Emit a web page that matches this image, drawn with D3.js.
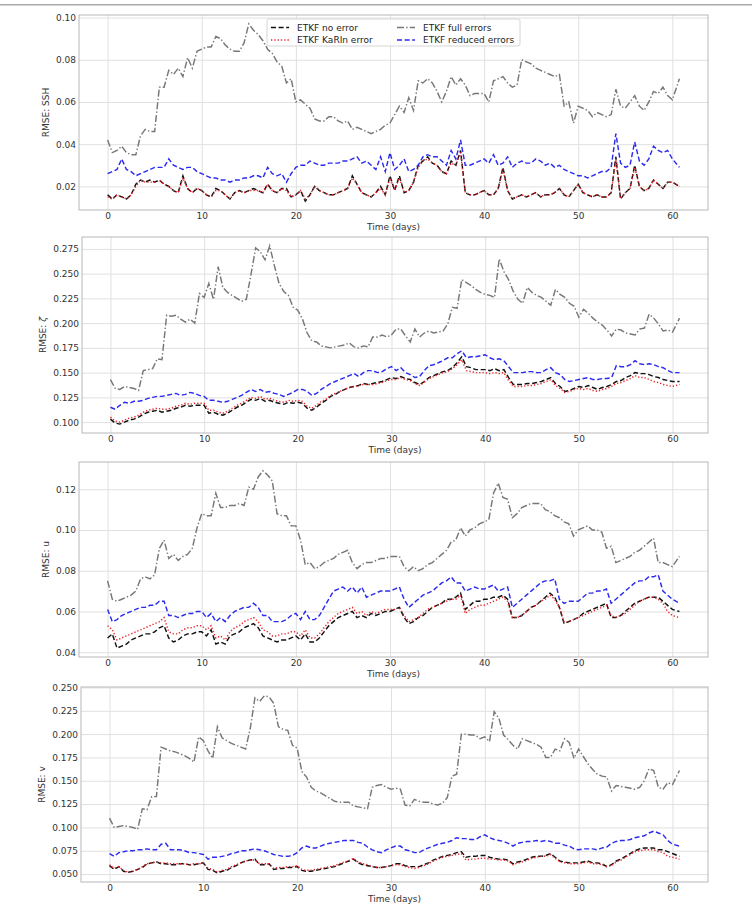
<!DOCTYPE html>
<html>
<head>
<meta charset="utf-8">
<script src="https://cdn.jsdelivr.net/npm/d3@7"></script>
<style>
body { margin: 0; background: #fff; }
svg text { font-family: "DejaVu Sans", sans-serif; }
</style>
</head>
<body>
<div id="main"></div>
<script>
// time axis (days), one sample every half day
const days = [
  0,0.5,1,1.5,2,2.5,3,3.5,4,4.5,
  5,5.5,6,6.5,7,7.5,8,8.5,9,9.5,
  10,10.5,11,11.5,12,12.5,13,13.5,14,14.5,
  15,15.5,16,16.5,17,17.5,18,18.5,19,19.5,
  20,20.5,21,21.5,22,22.5,23,23.5,24,24.5,
  25,25.5,26,26.5,27,27.5,28,28.5,29,29.5,
  30,30.5,31,31.5,32,32.5,33,33.5,34,34.5,
  35,35.5,36,36.5,37,37.5,38,38.5,39,39.5,
  40,40.5,41,41.5,42,42.5,43,43.5,44,44.5,
  45,45.5,46,46.5,47,47.5,48,48.5,49,49.5,
  50,50.5,51,51.5,52,52.5,53,53.5,54,54.5,
  55,55.5,56,56.5,57,57.5,58,58.5,59,59.5,
  60,60.75
];

// ---- RMSE: SSH ----
const sshNoError = [
  0.016,0.014,0.016,0.015,0.014,0.016,0.021,0.023,0.022,0.023,
  0.022,0.023,0.021,0.020,0.018,0.017,0.025,0.019,0.017,0.019,
  0.018,0.016,0.015,0.019,0.018,0.016,0.014,0.017,0.018,0.017,
  0.018,0.019,0.018,0.017,0.021,0.018,0.017,0.019,0.019,0.015,
  0.016,0.018,0.013,0.016,0.020,0.018,0.017,0.016,0.016,0.017,
  0.018,0.019,0.025,0.021,0.017,0.016,0.015,0.017,0.020,0.016,
  0.025,0.018,0.025,0.017,0.018,0.022,0.030,0.032,0.034,0.031,
  0.030,0.027,0.026,0.032,0.030,0.037,0.017,0.016,0.016,0.017,
  0.018,0.016,0.016,0.019,0.029,0.018,0.014,0.015,0.016,0.015,
  0.016,0.017,0.015,0.016,0.016,0.017,0.019,0.016,0.015,0.018,
  0.021,0.017,0.016,0.015,0.016,0.015,0.015,0.017,0.034,0.014,
  0.017,0.019,0.030,0.020,0.018,0.019,0.023,0.021,0.019,0.022,
  0.022,0.020
];
const sshKarin = [
  0.015,0.014,0.016,0.015,0.014,0.016,0.020,0.023,0.022,0.022,
  0.022,0.023,0.021,0.020,0.018,0.017,0.024,0.019,0.017,0.019,
  0.018,0.016,0.015,0.018,0.018,0.016,0.014,0.017,0.018,0.017,
  0.018,0.018,0.018,0.017,0.021,0.018,0.017,0.019,0.018,0.015,
  0.016,0.018,0.014,0.016,0.020,0.018,0.017,0.016,0.016,0.017,
  0.018,0.019,0.024,0.021,0.017,0.016,0.015,0.017,0.019,0.016,
  0.024,0.018,0.024,0.017,0.018,0.022,0.029,0.032,0.033,0.031,
  0.030,0.027,0.026,0.031,0.030,0.036,0.017,0.016,0.016,0.017,
  0.018,0.016,0.016,0.019,0.028,0.018,0.014,0.015,0.016,0.015,
  0.016,0.017,0.015,0.016,0.016,0.017,0.019,0.016,0.015,0.018,
  0.021,0.017,0.016,0.015,0.016,0.015,0.015,0.017,0.033,0.014,
  0.017,0.019,0.029,0.020,0.018,0.019,0.023,0.021,0.019,0.022,
  0.022,0.020
];
const sshFull = [
  0.042,0.036,0.037,0.039,0.036,0.035,0.035,0.044,0.047,0.046,
  0.046,0.067,0.067,0.075,0.073,0.076,0.072,0.081,0.076,0.084,
  0.085,0.086,0.086,0.091,0.090,0.087,0.085,0.084,0.084,0.088,
  0.097,0.094,0.092,0.089,0.085,0.083,0.079,0.077,0.069,0.071,
  0.060,0.061,0.059,0.057,0.052,0.051,0.051,0.053,0.053,0.051,
  0.050,0.051,0.047,0.048,0.047,0.046,0.045,0.046,0.047,0.049,
  0.050,0.054,0.058,0.055,0.062,0.056,0.070,0.069,0.071,0.069,
  0.065,0.060,0.065,0.072,0.068,0.071,0.068,0.063,0.064,0.064,
  0.064,0.060,0.070,0.071,0.072,0.069,0.067,0.068,0.080,0.079,
  0.078,0.076,0.075,0.074,0.073,0.072,0.073,0.058,0.060,0.050,
  0.058,0.057,0.056,0.053,0.055,0.054,0.053,0.054,0.066,0.058,
  0.057,0.060,0.063,0.058,0.056,0.060,0.065,0.064,0.067,0.063,
  0.061,0.071
];
const sshReduced = [
  0.026,0.027,0.028,0.033,0.028,0.027,0.025,0.026,0.027,0.028,
  0.029,0.029,0.029,0.033,0.030,0.029,0.028,0.029,0.029,0.027,
  0.026,0.025,0.024,0.024,0.023,0.023,0.022,0.023,0.023,0.024,
  0.024,0.025,0.025,0.024,0.029,0.026,0.025,0.026,0.022,0.026,
  0.029,0.030,0.030,0.032,0.031,0.030,0.030,0.031,0.031,0.031,
  0.032,0.032,0.033,0.034,0.031,0.032,0.030,0.028,0.034,0.027,
  0.036,0.028,0.030,0.033,0.027,0.028,0.030,0.034,0.035,0.034,
  0.034,0.032,0.030,0.037,0.033,0.042,0.030,0.030,0.031,0.032,
  0.033,0.031,0.035,0.030,0.031,0.034,0.029,0.031,0.032,0.031,
  0.031,0.033,0.032,0.030,0.031,0.029,0.030,0.028,0.027,0.026,
  0.025,0.025,0.024,0.025,0.026,0.027,0.027,0.029,0.045,0.031,
  0.029,0.030,0.041,0.032,0.030,0.033,0.039,0.037,0.036,0.037,
  0.033,0.029
];

// ---- RMSE: zeta ----
const zetaNoError = [
  0.103,0.099,0.098,0.100,0.102,0.103,0.105,0.108,0.110,0.111,
  0.112,0.110,0.111,0.112,0.114,0.115,0.117,0.116,0.117,0.117,
  0.117,0.109,0.110,0.108,0.107,0.109,0.112,0.115,0.117,0.120,
  0.123,0.122,0.124,0.121,0.122,0.120,0.119,0.118,0.120,0.119,
  0.120,0.119,0.114,0.112,0.115,0.119,0.122,0.126,0.128,0.131,
  0.133,0.135,0.136,0.137,0.139,0.138,0.139,0.140,0.141,0.143,
  0.145,0.144,0.146,0.144,0.143,0.140,0.138,0.141,0.145,0.147,
  0.149,0.151,0.152,0.155,0.160,0.166,0.156,0.155,0.153,0.153,
  0.153,0.152,0.154,0.152,0.153,0.145,0.138,0.138,0.138,0.139,
  0.139,0.140,0.141,0.143,0.145,0.139,0.136,0.131,0.132,0.134,
  0.136,0.135,0.137,0.135,0.133,0.135,0.136,0.138,0.141,0.142,
  0.145,0.147,0.150,0.149,0.149,0.148,0.146,0.145,0.143,0.142,
  0.141,0.141
];
const zetaKarin = [
  0.105,0.101,0.100,0.102,0.104,0.105,0.107,0.110,0.112,0.113,
  0.114,0.113,0.113,0.114,0.116,0.117,0.119,0.118,0.119,0.119,
  0.119,0.112,0.112,0.110,0.109,0.111,0.114,0.117,0.119,0.122,
  0.125,0.124,0.126,0.123,0.124,0.122,0.121,0.120,0.122,0.121,
  0.122,0.121,0.116,0.114,0.117,0.121,0.123,0.127,0.129,0.131,
  0.133,0.135,0.136,0.137,0.138,0.138,0.138,0.139,0.140,0.142,
  0.143,0.143,0.145,0.143,0.142,0.139,0.137,0.140,0.144,0.146,
  0.148,0.150,0.151,0.154,0.158,0.163,0.152,0.151,0.150,0.150,
  0.150,0.149,0.150,0.149,0.150,0.142,0.136,0.136,0.136,0.137,
  0.137,0.138,0.139,0.141,0.143,0.137,0.134,0.130,0.131,0.133,
  0.134,0.133,0.134,0.132,0.131,0.133,0.134,0.136,0.139,0.140,
  0.142,0.144,0.147,0.145,0.145,0.143,0.141,0.140,0.138,0.137,
  0.136,0.138
];
const zetaFull = [
  0.143,0.134,0.133,0.136,0.135,0.134,0.132,0.152,0.153,0.154,
  0.164,0.163,0.208,0.207,0.208,0.204,0.201,0.204,0.200,0.230,
  0.226,0.240,0.224,0.257,0.236,0.231,0.228,0.225,0.222,0.224,
  0.249,0.276,0.272,0.264,0.278,0.258,0.240,0.232,0.228,0.216,
  0.213,0.204,0.190,0.182,0.181,0.177,0.176,0.175,0.176,0.177,
  0.178,0.180,0.176,0.175,0.177,0.176,0.186,0.186,0.188,0.186,
  0.188,0.194,0.194,0.187,0.181,0.194,0.186,0.190,0.192,0.190,
  0.191,0.192,0.199,0.216,0.215,0.244,0.241,0.238,0.234,0.231,
  0.229,0.228,0.226,0.265,0.252,0.244,0.232,0.224,0.220,0.236,
  0.231,0.228,0.226,0.222,0.218,0.234,0.229,0.226,0.220,0.217,
  0.206,0.214,0.210,0.205,0.201,0.198,0.193,0.187,0.194,0.193,
  0.190,0.189,0.188,0.194,0.195,0.209,0.205,0.199,0.192,0.193,
  0.191,0.205
];
const zetaReduced = [
  0.115,0.113,0.117,0.120,0.119,0.121,0.121,0.122,0.124,0.125,
  0.126,0.126,0.127,0.128,0.129,0.127,0.128,0.130,0.129,0.127,
  0.126,0.122,0.122,0.121,0.120,0.121,0.123,0.125,0.127,0.130,
  0.133,0.131,0.133,0.130,0.131,0.129,0.128,0.126,0.128,0.130,
  0.133,0.133,0.131,0.127,0.129,0.133,0.136,0.139,0.141,0.143,
  0.145,0.147,0.149,0.146,0.150,0.152,0.152,0.150,0.151,0.154,
  0.156,0.152,0.155,0.150,0.148,0.145,0.146,0.152,0.157,0.158,
  0.160,0.162,0.165,0.165,0.169,0.172,0.165,0.166,0.166,0.167,
  0.168,0.165,0.163,0.164,0.162,0.156,0.150,0.150,0.150,0.151,
  0.151,0.150,0.150,0.153,0.155,0.150,0.148,0.143,0.141,0.142,
  0.143,0.144,0.145,0.143,0.143,0.144,0.144,0.145,0.157,0.156,
  0.156,0.158,0.162,0.159,0.158,0.159,0.158,0.156,0.155,0.152,
  0.150,0.150
];

// ---- RMSE: u ----
const uNoError = [
  0.047,0.049,0.042,0.043,0.044,0.046,0.047,0.048,0.049,0.049,
  0.050,0.052,0.053,0.047,0.045,0.046,0.048,0.049,0.049,0.050,
  0.050,0.048,0.051,0.044,0.045,0.044,0.048,0.049,0.050,0.052,
  0.053,0.054,0.052,0.048,0.047,0.046,0.045,0.046,0.046,0.047,
  0.048,0.046,0.049,0.045,0.045,0.047,0.050,0.053,0.055,0.057,
  0.058,0.059,0.060,0.057,0.058,0.057,0.059,0.058,0.059,0.060,
  0.060,0.061,0.062,0.057,0.054,0.055,0.057,0.058,0.060,0.062,
  0.063,0.064,0.066,0.066,0.067,0.069,0.061,0.063,0.065,0.065,
  0.066,0.066,0.067,0.067,0.068,0.066,0.057,0.057,0.058,0.060,
  0.062,0.063,0.065,0.067,0.069,0.067,0.062,0.054,0.055,0.056,
  0.057,0.059,0.060,0.061,0.062,0.063,0.064,0.057,0.057,0.058,
  0.060,0.062,0.064,0.065,0.066,0.067,0.067,0.067,0.065,0.063,
  0.061,0.060
];
const uKarin = [
  0.053,0.051,0.046,0.047,0.048,0.049,0.050,0.051,0.052,0.053,
  0.054,0.055,0.057,0.050,0.049,0.049,0.051,0.052,0.052,0.053,
  0.053,0.051,0.053,0.047,0.048,0.046,0.050,0.052,0.053,0.055,
  0.056,0.057,0.055,0.051,0.050,0.048,0.048,0.049,0.049,0.050,
  0.050,0.048,0.051,0.047,0.047,0.049,0.052,0.055,0.057,0.059,
  0.060,0.061,0.062,0.059,0.060,0.058,0.060,0.059,0.060,0.061,
  0.061,0.061,0.062,0.058,0.055,0.056,0.057,0.059,0.061,0.062,
  0.063,0.064,0.065,0.066,0.066,0.068,0.059,0.061,0.062,0.063,
  0.063,0.064,0.065,0.066,0.067,0.065,0.057,0.057,0.058,0.060,
  0.062,0.063,0.065,0.066,0.068,0.066,0.062,0.055,0.055,0.056,
  0.057,0.058,0.059,0.060,0.061,0.062,0.063,0.058,0.057,0.058,
  0.059,0.061,0.063,0.065,0.066,0.067,0.067,0.066,0.064,0.060,
  0.058,0.057
];
const uFull = [
  0.075,0.066,0.065,0.066,0.067,0.068,0.070,0.076,0.077,0.076,
  0.078,0.091,0.095,0.086,0.088,0.085,0.087,0.088,0.091,0.101,
  0.108,0.107,0.107,0.118,0.111,0.111,0.112,0.112,0.113,0.112,
  0.121,0.120,0.126,0.129,0.127,0.124,0.108,0.107,0.107,0.102,
  0.102,0.095,0.083,0.084,0.081,0.082,0.084,0.085,0.086,0.088,
  0.089,0.090,0.084,0.081,0.083,0.084,0.084,0.085,0.086,0.086,
  0.087,0.087,0.087,0.082,0.080,0.082,0.080,0.081,0.083,0.084,
  0.086,0.088,0.090,0.094,0.095,0.101,0.097,0.100,0.101,0.103,
  0.104,0.105,0.118,0.123,0.116,0.115,0.106,0.108,0.111,0.112,
  0.113,0.113,0.113,0.110,0.109,0.107,0.106,0.104,0.103,0.097,
  0.100,0.101,0.102,0.100,0.100,0.099,0.091,0.092,0.084,0.085,
  0.086,0.087,0.089,0.090,0.092,0.094,0.096,0.084,0.084,0.083,
  0.082,0.087
];
const uReduced = [
  0.061,0.055,0.056,0.058,0.059,0.060,0.061,0.062,0.062,0.063,
  0.063,0.065,0.065,0.058,0.058,0.057,0.058,0.059,0.059,0.060,
  0.060,0.057,0.059,0.055,0.057,0.055,0.058,0.060,0.061,0.062,
  0.062,0.064,0.062,0.058,0.058,0.055,0.055,0.055,0.056,0.058,
  0.059,0.056,0.060,0.056,0.056,0.058,0.062,0.066,0.070,0.071,
  0.072,0.070,0.072,0.069,0.072,0.067,0.068,0.069,0.070,0.070,
  0.070,0.071,0.072,0.066,0.062,0.064,0.066,0.068,0.069,0.070,
  0.072,0.074,0.075,0.077,0.074,0.074,0.070,0.071,0.072,0.071,
  0.071,0.072,0.073,0.070,0.071,0.072,0.062,0.064,0.066,0.068,
  0.070,0.072,0.074,0.075,0.075,0.076,0.066,0.064,0.065,0.065,
  0.065,0.067,0.069,0.069,0.070,0.070,0.071,0.064,0.066,0.068,
  0.070,0.072,0.074,0.075,0.075,0.077,0.077,0.078,0.070,0.068,
  0.066,0.064
];

// ---- RMSE: v ----
const vNoError = [
  0.059,0.055,0.058,0.053,0.052,0.053,0.055,0.057,0.061,0.062,
  0.063,0.061,0.061,0.060,0.060,0.061,0.061,0.060,0.060,0.061,
  0.062,0.055,0.054,0.051,0.053,0.054,0.057,0.059,0.062,0.064,
  0.065,0.066,0.060,0.060,0.061,0.055,0.056,0.056,0.057,0.057,
  0.058,0.054,0.053,0.053,0.054,0.055,0.056,0.057,0.058,0.060,
  0.062,0.064,0.066,0.062,0.060,0.059,0.058,0.057,0.057,0.058,
  0.059,0.061,0.061,0.059,0.058,0.058,0.058,0.060,0.062,0.065,
  0.067,0.069,0.070,0.071,0.073,0.074,0.068,0.069,0.069,0.070,
  0.070,0.068,0.067,0.066,0.066,0.065,0.061,0.063,0.064,0.066,
  0.068,0.069,0.069,0.070,0.072,0.068,0.064,0.063,0.062,0.062,
  0.062,0.063,0.064,0.062,0.062,0.061,0.058,0.060,0.064,0.066,
  0.069,0.072,0.075,0.077,0.078,0.078,0.078,0.076,0.076,0.074,
  0.072,0.069
];
const vKarin = [
  0.060,0.056,0.058,0.054,0.052,0.053,0.055,0.058,0.061,0.062,
  0.063,0.062,0.062,0.061,0.061,0.061,0.061,0.060,0.061,0.061,
  0.062,0.056,0.055,0.052,0.054,0.055,0.058,0.060,0.062,0.064,
  0.065,0.065,0.061,0.061,0.061,0.056,0.057,0.057,0.058,0.058,
  0.059,0.055,0.054,0.054,0.055,0.056,0.057,0.058,0.059,0.061,
  0.063,0.064,0.067,0.063,0.061,0.060,0.058,0.057,0.057,0.058,
  0.059,0.060,0.060,0.058,0.057,0.056,0.057,0.059,0.061,0.064,
  0.066,0.068,0.069,0.070,0.071,0.072,0.065,0.066,0.066,0.067,
  0.067,0.066,0.066,0.065,0.065,0.064,0.060,0.062,0.063,0.065,
  0.067,0.068,0.069,0.069,0.071,0.067,0.063,0.062,0.061,0.061,
  0.061,0.062,0.063,0.061,0.061,0.060,0.058,0.059,0.063,0.065,
  0.068,0.071,0.074,0.075,0.076,0.076,0.076,0.074,0.073,0.069,
  0.068,0.066
];
const vFull = [
  0.110,0.100,0.101,0.102,0.101,0.100,0.098,0.120,0.119,0.133,
  0.133,0.186,0.184,0.182,0.181,0.179,0.177,0.174,0.170,0.197,
  0.193,0.182,0.174,0.208,0.196,0.193,0.190,0.188,0.186,0.184,
  0.206,0.239,0.235,0.241,0.240,0.233,0.208,0.205,0.204,0.188,
  0.185,0.160,0.154,0.143,0.139,0.137,0.134,0.131,0.128,0.127,
  0.127,0.127,0.123,0.122,0.121,0.120,0.143,0.145,0.146,0.143,
  0.141,0.142,0.141,0.124,0.123,0.130,0.128,0.127,0.127,0.125,
  0.124,0.126,0.132,0.155,0.157,0.200,0.200,0.199,0.199,0.195,
  0.197,0.192,0.224,0.217,0.199,0.194,0.188,0.184,0.195,0.193,
  0.191,0.189,0.186,0.175,0.175,0.184,0.182,0.195,0.191,0.174,
  0.184,0.176,0.168,0.162,0.157,0.155,0.154,0.139,0.145,0.144,
  0.143,0.142,0.141,0.143,0.150,0.163,0.161,0.143,0.141,0.148,
  0.146,0.161
];
const vReduced = [
  0.072,0.069,0.073,0.074,0.075,0.075,0.076,0.076,0.077,0.076,
  0.076,0.082,0.083,0.076,0.076,0.076,0.075,0.073,0.073,0.072,
  0.071,0.066,0.068,0.068,0.069,0.070,0.072,0.073,0.075,0.075,
  0.076,0.077,0.076,0.075,0.073,0.071,0.070,0.069,0.069,0.070,
  0.073,0.078,0.080,0.078,0.078,0.080,0.082,0.083,0.084,0.085,
  0.086,0.086,0.086,0.084,0.083,0.079,0.076,0.074,0.073,0.076,
  0.078,0.080,0.080,0.076,0.075,0.073,0.073,0.076,0.078,0.080,
  0.082,0.083,0.084,0.086,0.089,0.088,0.088,0.087,0.087,0.090,
  0.092,0.089,0.087,0.086,0.085,0.083,0.080,0.083,0.084,0.085,
  0.085,0.086,0.085,0.086,0.085,0.083,0.083,0.081,0.080,0.077,
  0.076,0.077,0.077,0.077,0.076,0.078,0.079,0.083,0.085,0.086,
  0.086,0.087,0.089,0.090,0.091,0.094,0.096,0.094,0.092,0.086,
  0.082,0.080
];

// tick labels
const xTicks = [0, 10, 20, 30, 40, 50, 60];
const sshTicks = [0.02, 0.04, 0.06, 0.08, 0.10];
const zetaTicks = [0.100, 0.125, 0.150, 0.175, 0.200, 0.225, 0.250, 0.275];
const uTicks = [0.04, 0.06, 0.08, 0.10, 0.12];
const vTicks = [0.050, 0.075, 0.100, 0.125, 0.150, 0.175, 0.200, 0.225, 0.250];

const seriesNames = ["ETKF no error", "ETKF KaRIn error", "ETKF full errors", "ETKF reduced errors"];

// line look for each series, same order as seriesNames
const lineStyles = [
    { color: "#111111", dash: "5,2.6" },
    { color: "#e8262a", dash: "1.3,2" },
    { color: "#777777", dash: "7,2.2,1.4,2.2" },
    { color: "#2b2bf0", dash: "5,2.6" }
];

const width = 752, height = 917;

const svg = d3.select("#main")
    .append("svg")
    .attr("width", width)
    .attr("height", height);

// thin rule along the top of the page
svg.append("rect")
    .attr("x", 0).attr("y", 4)
    .attr("width", width).attr("height", 1.5)
    .attr("fill", "#a9a9a9");

const panels = [
    { box: { left: 79, right: 708, top: 15, bottom: 210 }, ticks: sshTicks, fmt: ".2f",
      label: "SSH", series: [sshNoError, sshKarin, sshFull, sshReduced], legend: true },
    { box: { left: 82, right: 708, top: 237, bottom: 433 }, ticks: zetaTicks, fmt: ".3f",
      label: "ζ", italic: true, series: [zetaNoError, zetaKarin, zetaFull, zetaReduced] },
    { box: { left: 79, right: 708, top: 462, bottom: 657 }, ticks: uTicks, fmt: ".2f",
      label: "u", series: [uNoError, uKarin, uFull, uReduced] },
    { box: { left: 81, right: 708, top: 687, bottom: 882 }, ticks: vTicks, fmt: ".3f",
      label: "v", series: [vNoError, vKarin, vFull, vReduced] }
];

panels.forEach(makePanel);

function makePanel(p) {
    const b = p.box;
    const w = b.right - b.left,
        h = b.bottom - b.top;

    const g = svg.append("g")
        .attr("transform", `translate(${b.left}, ${b.top})`);

    // matplotlib-like 5% margins around the data
    const xlo = d3.min(days), xhi = d3.max(days), xpad = (xhi - xlo) * 0.05;
    const x = d3.scaleLinear()
        .domain([xlo - xpad, xhi + xpad])
        .range([0, w]);

    const allVals = [].concat(...p.series);
    const ylo = d3.min(allVals), yhi = d3.max(allVals), ypad = (yhi - ylo) * 0.05;
    const y = d3.scaleLinear()
        .domain([ylo - ypad, yhi + ypad])
        .range([h, 0]);

    // grid
    const gx = g.append("g")
        .attr("transform", `translate(0, ${h})`)
        .call(d3.axisBottom(x).tickValues(xTicks).tickSize(-h).tickFormat(""));
    const gy = g.append("g")
        .call(d3.axisLeft(y).tickValues(p.ticks).tickSize(-w).tickFormat(""));
    [gx, gy].forEach(function (a) {
        a.select(".domain").remove();
        a.selectAll("line").attr("stroke", "#e0e0e0").attr("stroke-width", 1);
    });

    // series
    const line = d3.line()
        .x(function (d, i) { return x(days[i]); })
        .y(function (d) { return y(d); });

    p.series.forEach(function (s, k) {
        g.append("path")
            .datum(s)
            .attr("fill", "none")
            .attr("stroke", lineStyles[k].color)
            .attr("stroke-width", 1.45)
            .attr("stroke-dasharray", lineStyles[k].dash)
            .attr("d", line);
    });

    // frame
    g.append("rect")
        .attr("width", w)
        .attr("height", h)
        .attr("fill", "none")
        .attr("stroke", "#b8b8b8")
        .attr("stroke-width", 1);

    // tick labels
    const ax = g.append("g")
        .attr("transform", `translate(0, ${h})`)
        .call(d3.axisBottom(x).tickValues(xTicks).tickSize(0).tickPadding(3));
    const ay = g.append("g")
        .call(d3.axisLeft(y).tickValues(p.ticks).tickSize(0).tickPadding(3).tickFormat(d3.format(p.fmt)));
    [ax, ay].forEach(function (a) {
        a.select(".domain").remove();
        a.attr("font-family", "DejaVu Sans").attr("font-size", 9);
        a.selectAll("text").attr("fill", "#333");
    });

    // axis labels
    g.append("text")
        .attr("x", w / 2)
        .attr("y", h + 19.5)
        .attr("text-anchor", "middle")
        .attr("font-size", 9)
        .attr("fill", "#333")
        .text("Time (days)");

    const tickW = ay.node().getBBox().width;
    const yl = g.append("text")
        .attr("transform", `translate(${-3 - tickW - 4}, ${h / 2}) rotate(-90)`)
        .attr("text-anchor", "middle")
        .attr("font-size", 9)
        .attr("fill", "#333");
    yl.append("tspan").text("RMSE: ");
    yl.append("tspan")
        .attr("font-style", p.italic ? "italic" : null)
        .text(p.label);

    if (p.legend) makeLegend();
}

function makeLegend() {
    const lg = svg.append("g").attr("transform", "translate(267, 19)");
    lg.append("rect")
        .attr("width", 253)
        .attr("height", 27)
        .attr("rx", 2)
        .attr("fill", "#fff")
        .attr("fill-opacity", 0.85)
        .attr("stroke", "#d6d6d6");

    const colX = [4, 130];
    const rowY = [8.5, 21];
    seriesNames.forEach(function (name, k) {
        const cx = colX[Math.floor(k / 2)],
            cy = rowY[k % 2];
        lg.append("line")
            .attr("x1", cx).attr("x2", cx + 18)
            .attr("y1", cy).attr("y2", cy)
            .attr("stroke", lineStyles[k].color)
            .attr("stroke-width", 1.45)
            .attr("stroke-dasharray", lineStyles[k].dash);
        lg.append("text")
            .attr("x", cx + 26)
            .attr("y", cy)
            .attr("dy", "0.35em")
            .attr("font-size", 9)
            .attr("fill", "#222")
            .text(name);
    });
}
</script>
</body>
</html>
